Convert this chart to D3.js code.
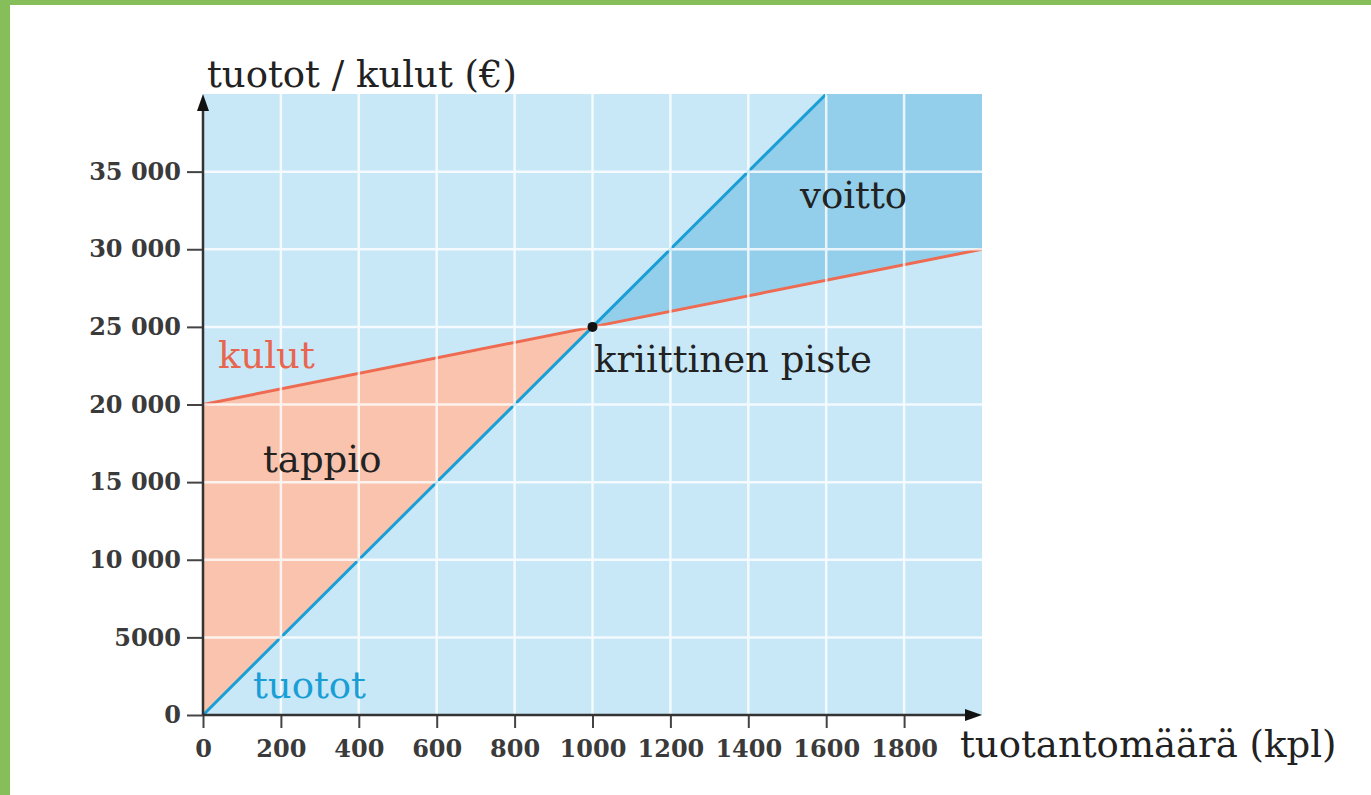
<!DOCTYPE html>
<html><head><meta charset="utf-8">
<script src="https://cdn.jsdelivr.net/npm/d3@7"></script>
<style>html,body{margin:0;padding:0;background:#fff;overflow:hidden}</style>
</head><body>
<svg id="c" width="1371" height="795"></svg>
<script>
const xTicks = [0,200,400,600,800,1000,1200,1400,1600,1800];
const yTicks = [0,5000,10000,15000,20000,25000,30000,35000];
const yTickLabels = ["0","5000","10 000","15 000","20 000","25 000","30 000","35 000"];
const quantity = [0, 1000, 2000];
const revenue = [0, 25000, 50000];   // tuotot = 25 €/kpl
const costs = [20000, 25000, 30000]; // kulut = 20000 + 5 €/kpl
const breakEven = [1000, 25000];

const svg = d3.select("#c");
const serif = "'DejaVu Serif', serif";
// green frame
svg.append("rect").attr("x",0).attr("y",0).attr("width",1371).attr("height",795).attr("fill","#86bf5a");
svg.append("rect").attr("x",10).attr("y",5).attr("width",1361).attr("height",790).attr("fill","#fff");

const x = d3.scaleLinear().domain([0,2000]).range([203,982]);
const y = d3.scaleLinear().domain([0,40000]).range([715,94]);

const g = svg.append("g");
const clipId="clipP";
svg.append("defs").append("clipPath").attr("id",clipId).append("rect")
  .attr("x",x(0)).attr("y",y(40000)).attr("width",x(2000)-x(0)).attr("height",y(0)-y(40000));

g.append("rect").attr("x",x(0)).attr("y",y(40000)).attr("width",x(2000)-x(0)).attr("height",y(0)-y(40000)).attr("fill","#c8e8f8");

const pts = quantity.map((q,i)=>({q, r:revenue[i], c:costs[i]}));
const area = d3.area().x(d=>x(d.q)).y0(d=>y(d.c)).y1(d=>y(d.r));
const cg = g.append("g").attr("clip-path",`url(#${clipId})`);
// loss region
cg.append("path").datum(pts.slice(0,2)).attr("d",area).attr("fill","#f9c3ad");
// profit region
cg.append("path").datum(pts.slice(1,3)).attr("d",area).attr("fill","#93cfea");

// grid
const gridG = g.append("g").attr("stroke","#fff").attr("stroke-width",2.5).attr("opacity",0.8);
xTicks.filter(t=>t>0).forEach(t=>gridG.append("line").attr("x1",x(t)).attr("x2",x(t)).attr("y1",y(0)).attr("y2",y(40000)));
yTicks.filter(t=>t>0).forEach(t=>gridG.append("line").attr("y1",y(t)).attr("y2",y(t)).attr("x1",x(0)).attr("x2",x(2000)));

// lines
const line = d3.line().x(d=>x(d[0])).y(d=>y(d[1]));
cg.append("path").datum(quantity.map((q,i)=>[q,costs[i]])).attr("d",line).attr("fill","none").attr("stroke","#ee6a50").attr("stroke-width",3);
cg.append("path").datum(quantity.map((q,i)=>[q,revenue[i]])).attr("d",line).attr("fill","none").attr("stroke","#1a9ed6").attr("stroke-width",3);

// axes
const xAxis = d3.axisBottom(x).tickValues(xTicks).tickSize(13).tickPadding(12).tickFormat(d3.format("d"));
const xa = svg.append("g").attr("transform",`translate(0,${y(0)})`).call(xAxis);
xa.select(".domain").remove();
xa.selectAll("line").attr("stroke","#444").attr("stroke-width",2);
xa.selectAll("text").attr("font-family",serif).attr("font-size",24).attr("font-weight","bold").attr("fill","#3a3a3a");
const yAxis = d3.axisLeft(y).tickValues(yTicks).tickSize(16).tickPadding(6).tickFormat((d,i)=>yTickLabels[i]);
const ya = svg.append("g").attr("transform",`translate(${x(0)},0)`).call(yAxis);
ya.select(".domain").remove();
ya.selectAll("line").attr("stroke","#444").attr("stroke-width",2);
ya.selectAll("text").attr("font-family",serif).attr("font-size",24).attr("font-weight","bold").attr("fill","#3a3a3a");

// axis lines with arrows
svg.append("line").attr("x1",x(0)).attr("x2",x(2000)-10).attr("y1",y(0)).attr("y2",y(0)).attr("stroke","#333").attr("stroke-width",2.5);
svg.append("line").attr("x1",x(0)).attr("x2",x(0)).attr("y1",y(0)).attr("y2",y(40000)+10).attr("stroke","#333").attr("stroke-width",2.5);
svg.append("path").attr("d",`M${x(2000)},${y(0)} l-17,-6 l0,12 z`).attr("fill","#111");
svg.append("path").attr("d",`M${x(0)},${y(40000)} l-6,17 l12,0 z`).attr("fill","#111");

// break-even point
svg.append("circle").attr("cx",x(breakEven[0])).attr("cy",y(breakEven[1])).attr("r",5).attr("fill","#111");

// labels
const lab = (t,xx,yy,fill,size) => svg.append("text").attr("x",xx).attr("y",yy).attr("font-family",serif)
  .attr("font-size",size||37).attr("fill",fill||"#222").text(t);
lab("tuotot / kulut (€)", 207, 87);
lab("tuotantomäärä (kpl)", 960, 757);
lab("kulut", 218, 368, "#e8664f");
lab("tappio", 263, 472);
lab("tuotot", 253, 698, "#1a9ed6");
lab("kriittinen piste", 594, 372);
lab("voitto", 800, 208);
</script>
</body></html>
